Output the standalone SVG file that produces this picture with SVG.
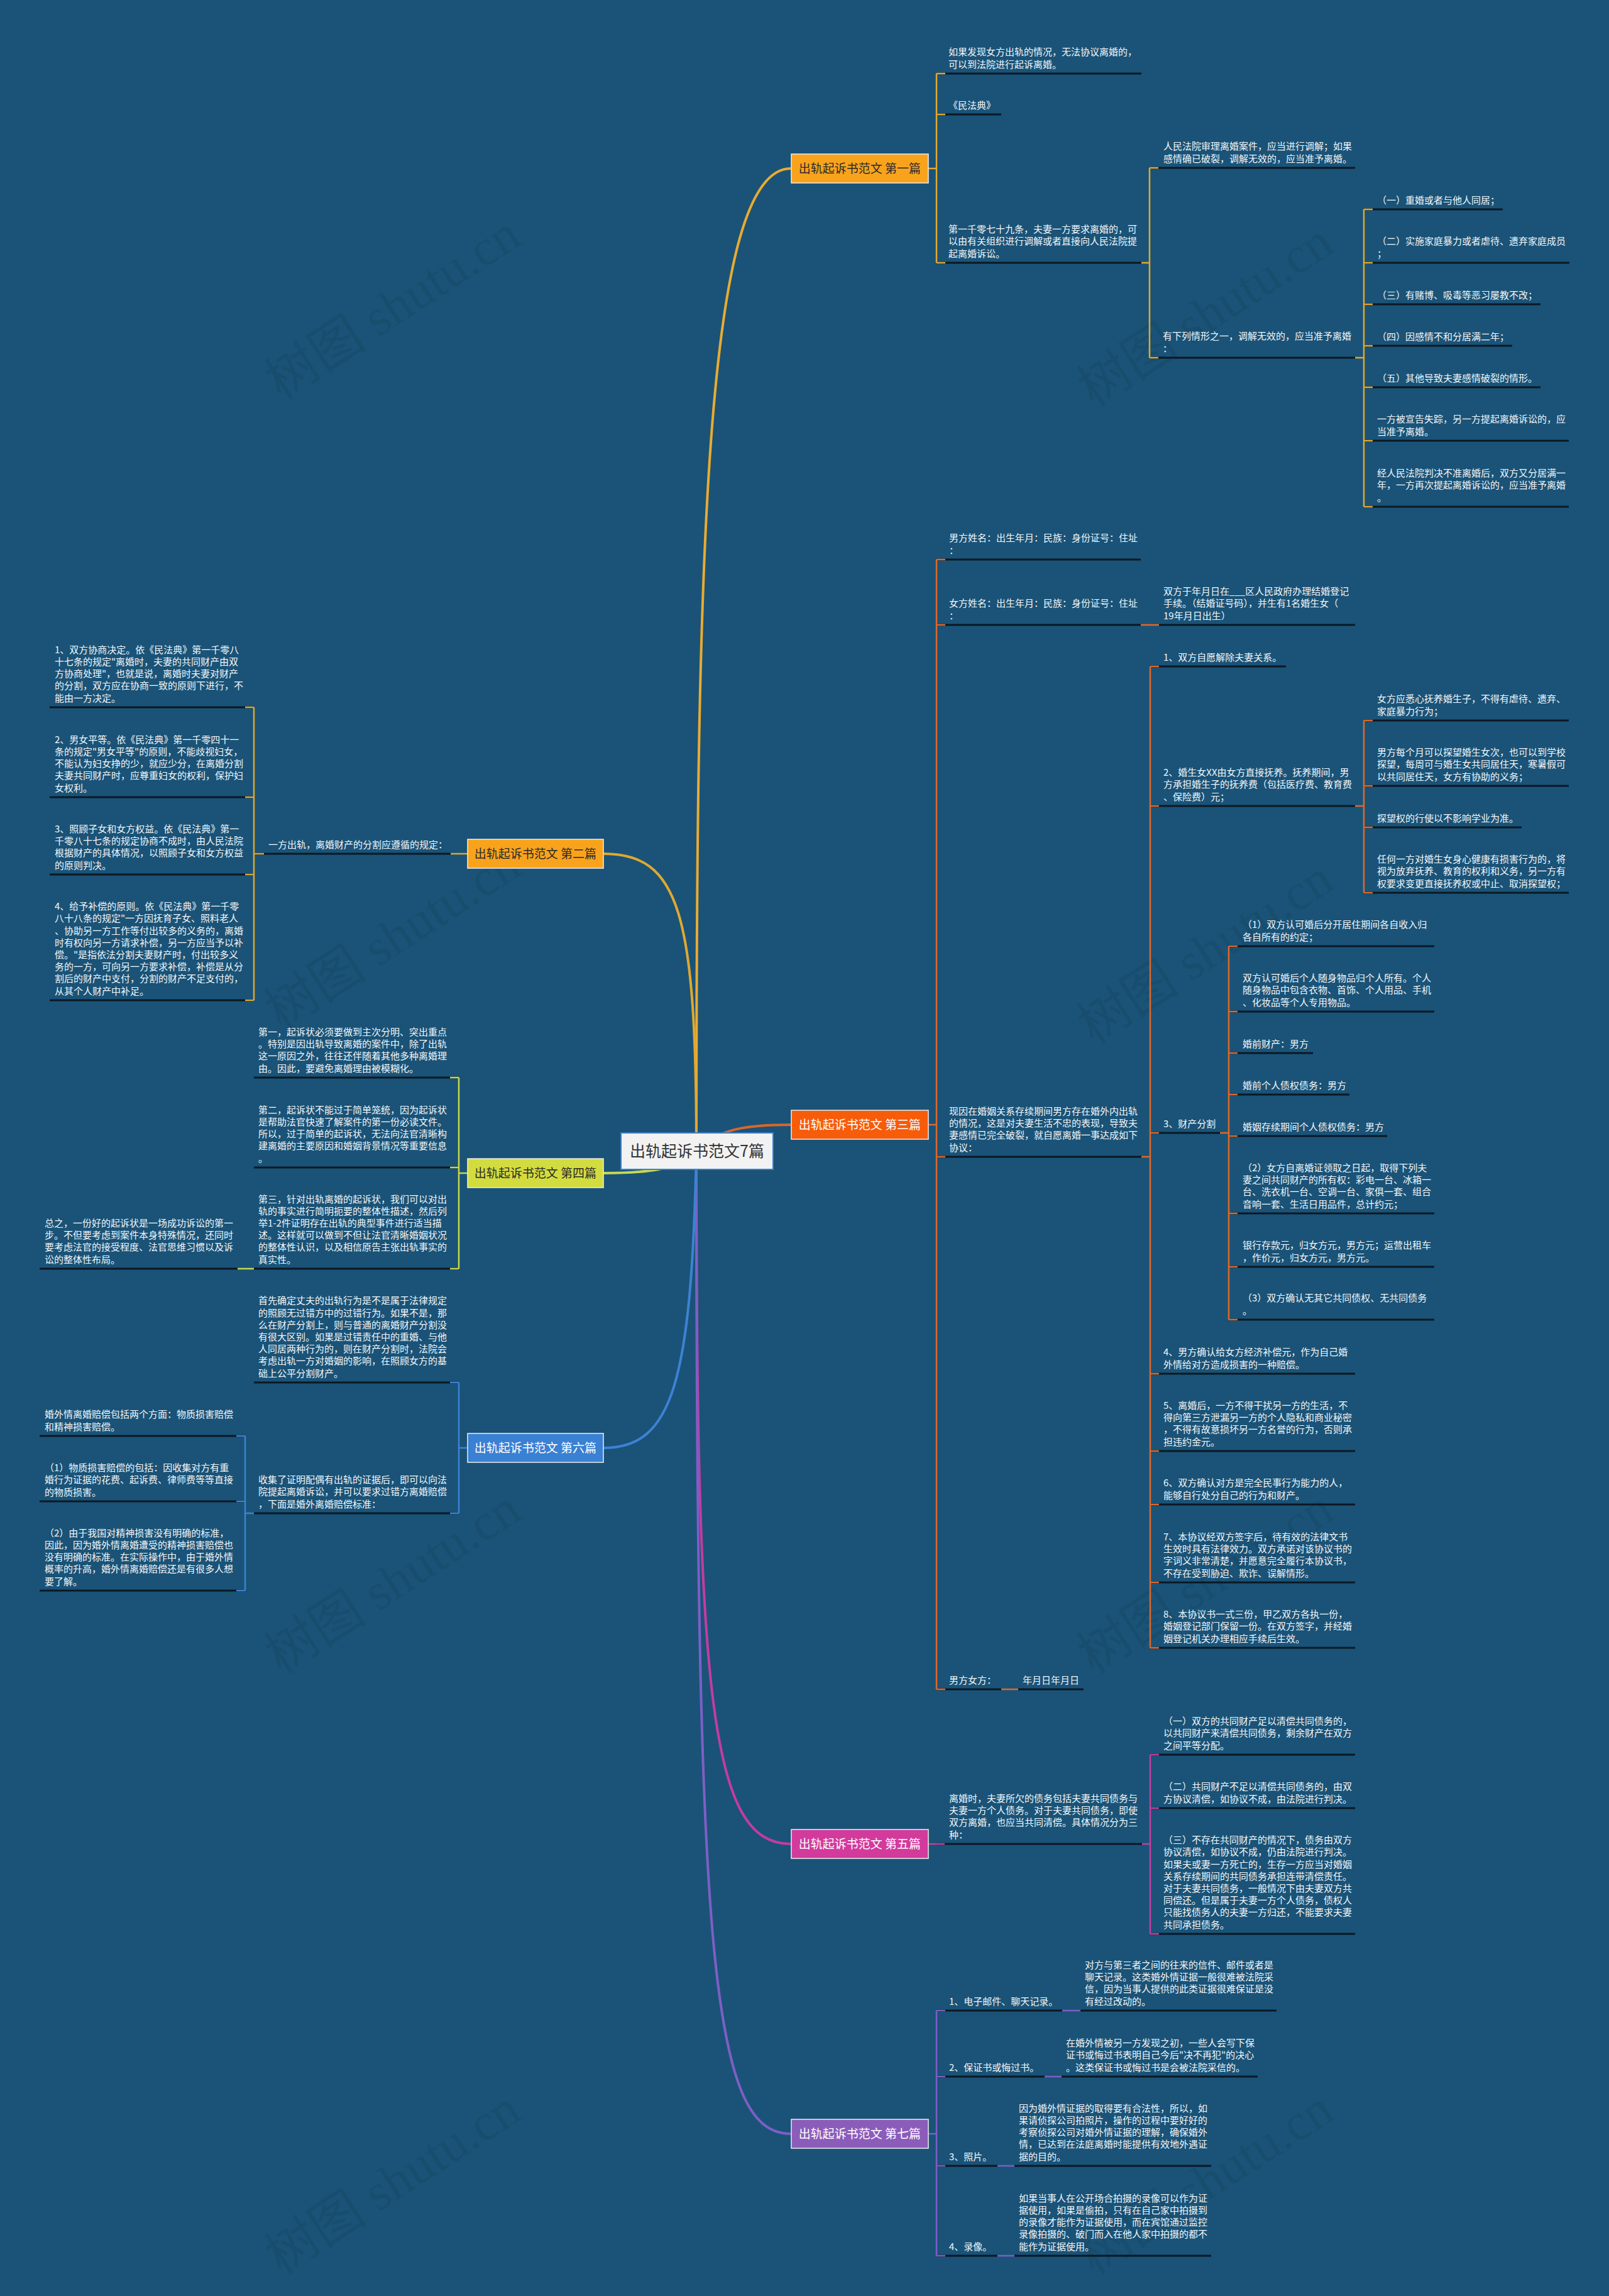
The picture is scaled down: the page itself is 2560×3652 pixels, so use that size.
<svg xmlns="http://www.w3.org/2000/svg" width="2560" height="3652" viewBox="0 0 2560 3652">
<style>
.t{font-family:"Noto Sans CJK SC","Noto Sans",sans-serif;font-size:15px;fill:#F4F7FA}
.ul{stroke:#0B1824;stroke-width:3;fill:none}
.bt{font-family:"Noto Sans CJK SC","Noto Sans",sans-serif;font-size:19px;text-anchor:middle}
.wm{font-family:"Liberation Serif","Noto Sans CJK SC",serif;font-size:82px;fill:#000;fill-opacity:0.07;text-anchor:middle}
.k1{stroke:#E2A72F;fill:none;stroke-width:2.5}
.k2{stroke:#DCA733;fill:none;stroke-width:2.5}
.k3{stroke:#DE682B;fill:none;stroke-width:2.5}
.k4{stroke:#C7D74C;fill:none;stroke-width:2.5}
.k5{stroke:#C33D9F;fill:none;stroke-width:2.5}
.k6{stroke:#3D82D3;fill:none;stroke-width:2.5}
.k7{stroke:#7E5EC4;fill:none;stroke-width:2.5}
.box{stroke:#EDEDED;stroke-width:1.5}
</style>
<rect x="0" y="0" width="2560" height="3652" fill="#1A5377"/>
<g id="watermark">
<text class="wm" transform="translate(640,512) rotate(-33)">树图 shutu.cn</text>
<text class="wm" transform="translate(1933,524) rotate(-33)">树图 shutu.cn</text>
<text class="wm" transform="translate(640,1514) rotate(-33)">树图 shutu.cn</text>
<text class="wm" transform="translate(1933,1537) rotate(-33)">树图 shutu.cn</text>
<text class="wm" transform="translate(640,2539) rotate(-33)">树图 shutu.cn</text>
<text class="wm" transform="translate(1933,2539) rotate(-33)">树图 shutu.cn</text>
<text class="wm" transform="translate(640,3494) rotate(-33)">树图 shutu.cn</text>
<text class="wm" transform="translate(1933,3494) rotate(-33)">树图 shutu.cn</text>
</g>
<g id="connectors">
<path d="M1108 1832 C1108 900 1120 268 1258 268" stroke="#E9AB32" stroke-width="4" fill="none"/>
<path d="M1108 1832 C1140 1795 1190 1789 1258 1789" stroke="#D9672A" stroke-width="4" fill="none"/>
<path d="M1108 1832 C1108 2700 1130 2933 1258 2933" stroke="#C43C9F" stroke-width="4" fill="none"/>
<path d="M1108 1832 C1108 3100 1130 3394 1258 3394" stroke="#7D5FC6" stroke-width="4" fill="none"/>
<path d="M1108 1832 C1108 1450 1080 1358 960 1358" stroke="#E0A830" stroke-width="4" fill="none"/>
<path d="M1108 1832 C1080 1860 1030 1866 960 1866" stroke="#C9D84F" stroke-width="4" fill="none"/>
<path d="M1108 1832 C1100 2200 1070 2303 960 2303" stroke="#3D82D4" stroke-width="4" fill="none"/>
<!-- underlines -->
<path class="ul" d="M1490 117H1816M1490 182H1593M1490 418H1816M1829 267H2156M1829 569H2156M2170 333H2391M2170 418H2497M2170 484H2451M2170 550H2406M2170 616H2451M2170 701H2496M2170 806H2496"/>
<path class="ul" d="M1490 890H1815M1490 994H1815M1844 994H2156M1490 1840H1816M1830 1060H2046M1830 1282H2156M2170 1146H2496M2170 1250H2496M2170 1316H2421M2170 1420H2496M1830 1802H1941M1955 1505H2282M1955 1609H2282M1955 1675H2089M1955 1741H2147M1955 1807H2207M1955 1930H2282M1955 2015H2282M1955 2099H2282M1830 2185H2156M1830 2308H2156M1830 2393H2156M1830 2517H2156M1830 2621H2156M1490 2687H1593M1620 2687H1724"/>
<path class="ul" d="M1490 2933H1817M1830 2791H2156M1830 2876H2156M1830 3076H2156"/>
<path class="ul" d="M1490 3198H1690M1719 3198H2031M1490 3303H1662M1689 3303H2001M1490 3445H1587M1614 3445H1927M1490 3588H1587M1614 3588H1927"/>
<path class="ul" d="M404 1358H717M79 1125H404M79 1268H404M79 1391H404M79 1591H404"/>
<path class="ul" d="M404 1714H730M404 1857H730M404 2018H730M63 2018H378"/>
<path class="ul" d="M404 2199H730M404 2407H730M63 2284H390M63 2388H390M63 2530H390"/>
<!-- section connectors -->
<path class="k1" d="M1476 268H1490M1490 117V418M1490 117H1504M1490 182H1504M1490 418H1504M1816 418H1829M1829 267V569M1829 267H1843M1829 569H1843M2156 569H2170M2170 333V806M2170 333H2184M2170 418H2184M2170 484H2184M2170 550H2184M2170 616H2184M2170 701H2184M2170 806H2184"/>
<path class="k3" d="M1476 1789H1490M1490 890V2687M1490 890H1504M1490 994H1504M1490 1840H1504M1490 2687H1504M1815 994H1844M1816 1840H1830M1830 1060V2621M1830 1060H1844M1830 1282H1844M1830 1802H1844M1830 2185H1844M1830 2308H1844M1830 2393H1844M1830 2517H1844M1830 2621H1844M2156 1282H2170M2170 1146V1420M2170 1146H2184M2170 1250H2184M2170 1316H2184M2170 1420H2184M1941 1802H1955M1955 1505V2099M1955 1505H1969M1955 1609H1969M1955 1675H1969M1955 1741H1969M1955 1807H1969M1955 1930H1969M1955 2015H1969M1955 2099H1969M1593 2687H1620"/>
<path class="k5" d="M1476 2933H1503M1817 2933H1830M1830 2791V3076M1830 2791H1844M1830 2876H1844M1830 3076H1844"/>
<path class="k7" d="M1476 3394H1490M1490 3198V3588M1490 3198H1504M1490 3303H1504M1490 3445H1504M1490 3588H1504M1690 3198H1719M1662 3303H1689M1587 3445H1614M1587 3588H1614"/>
<path class="k2" d="M744 1358H717M404 1358H420M404 1125V1591M390 1125H404M390 1268H404M390 1391H404M390 1591H404"/>
<path class="k4" d="M744 1866H730M730 1714V2018M716 1714H730M716 1857H730M716 2018H730M378 2018H404"/>
<path class="k6" d="M744 2303H730M730 2199V2407M716 2199H730M716 2407H730M390 2407H404M390 2284V2530M376 2284H390M376 2388H390M376 2530H390"/>
</g>
<g id="center">
<rect x="988" y="1802" width="242" height="58" fill="#F2F2F2" stroke="#3A7FD0" stroke-width="2"/>
<text x="1109" y="1840" font-family="Noto Sans CJK SC, Noto Sans, sans-serif" font-size="25" fill="#333" text-anchor="middle">出轨起诉书范文7篇</text>
</g>
<g id="b1">
<rect class="box" x="1259" y="245" width="218" height="46" fill="#F9A31D"/>
<text class="bt" x="1368" y="275" fill="#2A2A2A">出轨起诉书范文 第一篇</text>
</g>
<g id="b3">
<rect class="box" x="1259" y="1766" width="218" height="46" fill="#F75C0A"/>
<text class="bt" x="1368" y="1796" fill="#FFFFFF">出轨起诉书范文 第三篇</text>
</g>
<g id="b5">
<rect class="box" x="1259" y="2910" width="218" height="46" fill="#D23A9C"/>
<text class="bt" x="1368" y="2940" fill="#FFFFFF">出轨起诉书范文 第五篇</text>
</g>
<g id="b7">
<rect class="box" x="1259" y="3371" width="218" height="46" fill="#8C5CBA"/>
<text class="bt" x="1368" y="3401" fill="#FFFFFF">出轨起诉书范文 第七篇</text>
</g>
<g id="b2">
<rect class="box" x="744" y="1335" width="216" height="46" fill="#F9A31D"/>
<text class="bt" x="852" y="1365" fill="#2A2A2A">出轨起诉书范文 第二篇</text>
</g>
<g id="b4">
<rect class="box" x="744" y="1843" width="216" height="46" fill="#D3DC3E"/>
<text class="bt" x="852" y="1873" fill="#2A2A2A">出轨起诉书范文 第四篇</text>
</g>
<g id="b6">
<rect class="box" x="744" y="2280" width="216" height="46" fill="#3A80D3"/>
<text class="bt" x="852" y="2310" fill="#FFFFFF">出轨起诉书范文 第六篇</text>
</g>
<g id="s1">
<text class="t" x="1509" y="88.3"><tspan x="1509">如果发现女方出轨的情况，无法协议离婚的，</tspan><tspan x="1509" dy="19.2">可以到法院进行起诉离婚。</tspan></text>
<text class="t" x="1509" y="172.5">《民法典》</text>
<text class="t" x="1509" y="370.1"><tspan x="1509">第一千零七十九条，夫妻一方要求离婚的，可</tspan><tspan x="1509" dy="19.2">以由有关组织进行调解或者直接向人民法院提</tspan><tspan x="1509" dy="19.2">起离婚诉讼。</tspan></text>
<text class="t" x="1851" y="238.3"><tspan x="1851">人民法院审理离婚案件，应当进行调解；如果</tspan><tspan x="1851" dy="19.2">感情确已破裂，调解无效的，应当准予离婚。</tspan></text>
<text class="t" x="1850" y="540.3"><tspan x="1850">有下列情形之一，调解无效的，应当准予离婚</tspan><tspan x="1850" dy="19.2">：</tspan></text>
<text class="t" x="2191" y="323.5">（一）重婚或者与他人同居；</text>
<text class="t" x="2191" y="389.3"><tspan x="2191">（二）实施家庭暴力或者虐待、遗弃家庭成员</tspan><tspan x="2191" dy="19.2">；</tspan></text>
<text class="t" x="2191" y="474.5">（三）有赌博、吸毒等恶习屡教不改；</text>
<text class="t" x="2191" y="540.5">（四）因感情不和分居满二年；</text>
<text class="t" x="2191" y="606.5">（五）其他导致夫妻感情破裂的情形。</text>
<text class="t" x="2191" y="672.3"><tspan x="2191">一方被宣告失踪，另一方提起离婚诉讼的，应</tspan><tspan x="2191" dy="19.2">当准予离婚。</tspan></text>
<text class="t" x="2191" y="758.1"><tspan x="2191">经人民法院判决不准离婚后，双方又分居满一</tspan><tspan x="2191" dy="19.2">年，一方再次提起离婚诉讼的，应当准予离婚</tspan><tspan x="2191" dy="19.2">。</tspan></text>
</g>
<g id="s3">
<text class="t" x="1510" y="861.3"><tspan x="1510">男方姓名：出生年月：民族：身份证号：住址</tspan><tspan x="1510" dy="19.2">：</tspan></text>
<text class="t" x="1510" y="965.3"><tspan x="1510">女方姓名：出生年月：民族：身份证号：住址</tspan><tspan x="1510" dy="19.2">：</tspan></text>
<text class="t" x="1851" y="946.1"><tspan x="1851">双方于年月日在___区人民政府办理结婚登记</tspan><tspan x="1851" dy="19.2">手续。（结婚证号码），并生有1名婚生女（</tspan><tspan x="1851" dy="19.2">19年月日出生）</tspan></text>
<text class="t" x="1510" y="1772.9"><tspan x="1510">现因在婚姻关系存续期间男方存在婚外内出轨</tspan><tspan x="1510" dy="19.2">的情况，这是对夫妻生活不忠的表现，导致夫</tspan><tspan x="1510" dy="19.2">妻感情已完全破裂，就自愿离婚一事达成如下</tspan><tspan x="1510" dy="19.2">协议：</tspan></text>
<text class="t" x="1851" y="1050.5">1、双方自愿解除夫妻关系。</text>
<text class="t" x="1851" y="1234.1"><tspan x="1851">2、婚生女XX由女方直接抚养。抚养期间，男</tspan><tspan x="1851" dy="19.2">方承担婚生子的抚养费（包括医疗费、教育费</tspan><tspan x="1851" dy="19.2">、保险费）元；</tspan></text>
<text class="t" x="2191" y="1117.3"><tspan x="2191">女方应悉心抚养婚生子，不得有虐待、遗弃、</tspan><tspan x="2191" dy="19.2">家庭暴力行为；</tspan></text>
<text class="t" x="2191" y="1202.1"><tspan x="2191">男方每个月可以探望婚生女次，也可以到学校</tspan><tspan x="2191" dy="19.2">探望，每周可与婚生女共同居住天，寒暑假可</tspan><tspan x="2191" dy="19.2">以共同居住天，女方有协助的义务；</tspan></text>
<text class="t" x="2191" y="1306.5">探望权的行使以不影响学业为准。</text>
<text class="t" x="2191" y="1372.1"><tspan x="2191">任何一方对婚生女身心健康有损害行为的，将</tspan><tspan x="2191" dy="19.2">视为放弃抚养、教育的权利和义务，另一方有</tspan><tspan x="2191" dy="19.2">权要求变更直接抚养权或中止、取消探望权；</tspan></text>
<text class="t" x="1851" y="1792.5">3、财产分割</text>
<text class="t" x="1977" y="1476.3"><tspan x="1977">（1）双方认可婚后分开居住期间各自收入归</tspan><tspan x="1977" dy="19.2">各自所有的约定；</tspan></text>
<text class="t" x="1977" y="1561.1"><tspan x="1977">双方认可婚后个人随身物品归个人所有。个人</tspan><tspan x="1977" dy="19.2">随身物品中包含衣物、首饰、个人用品、手机</tspan><tspan x="1977" dy="19.2">、化妆品等个人专用物品。</tspan></text>
<text class="t" x="1977" y="1665.5">婚前财产：男方</text>
<text class="t" x="1977" y="1731.5">婚前个人债权债务：男方</text>
<text class="t" x="1977" y="1797.5">婚姻存续期间个人债权债务：男方</text>
<text class="t" x="1977" y="1862.9"><tspan x="1977">（2）女方自离婚证领取之日起，取得下列夫</tspan><tspan x="1977" dy="19.2">妻之间共同财产的所有权：彩电一台、冰箱一</tspan><tspan x="1977" dy="19.2">台、洗衣机一台、空调一台、家俱一套、组合</tspan><tspan x="1977" dy="19.2">音响一套、生活日用品件，总计约元；</tspan></text>
<text class="t" x="1977" y="1986.3"><tspan x="1977">银行存款元，归女方元，男方元；运营出租车</tspan><tspan x="1977" dy="19.2">，作价元，归女方元，男方元。</tspan></text>
<text class="t" x="1977" y="2070.3"><tspan x="1977">（3）双方确认无其它共同债权、无共同债务</tspan><tspan x="1977" dy="19.2">。</tspan></text>
<text class="t" x="1851" y="2156.3"><tspan x="1851">4、男方确认给女方经济补偿元，作为自己婚</tspan><tspan x="1851" dy="19.2">外情给对方造成损害的一种赔偿。</tspan></text>
<text class="t" x="1851" y="2240.9"><tspan x="1851">5、离婚后，一方不得干扰另一方的生活，不</tspan><tspan x="1851" dy="19.2">得向第三方泄漏另一方的个人隐私和商业秘密</tspan><tspan x="1851" dy="19.2">，不得有故意损坏另一方名誉的行为，否则承</tspan><tspan x="1851" dy="19.2">担违约金元。</tspan></text>
<text class="t" x="1851" y="2364.3"><tspan x="1851">6、双方确认对方是完全民事行为能力的人，</tspan><tspan x="1851" dy="19.2">能够自行处分自己的行为和财产。</tspan></text>
<text class="t" x="1851" y="2449.9"><tspan x="1851">7、本协议经双方签字后，待有效的法律文书</tspan><tspan x="1851" dy="19.2">生效时具有法律效力。双方承诺对该协议书的</tspan><tspan x="1851" dy="19.2">字词义非常清楚，并愿意完全履行本协议书，</tspan><tspan x="1851" dy="19.2">不存在受到胁迫、欺诈、误解情形。</tspan></text>
<text class="t" x="1851" y="2573.1"><tspan x="1851">8、本协议书一式三份，甲乙双方各执一份，</tspan><tspan x="1851" dy="19.2">婚姻登记部门保留一份。在双方签字，并经婚</tspan><tspan x="1851" dy="19.2">姻登记机关办理相应手续后生效。</tspan></text>
<text class="t" x="1510" y="2677.5">男方女方：</text>
<text class="t" x="1627" y="2677.5">年月日年月日</text>
</g>
<g id="s5">
<text class="t" x="1510" y="2865.9"><tspan x="1510">离婚时，夫妻所欠的债务包括夫妻共同债务与</tspan><tspan x="1510" dy="19.2">夫妻一方个人债务。对于夫妻共同债务，即使</tspan><tspan x="1510" dy="19.2">双方离婚，也应当共同清偿。具体情况分为三</tspan><tspan x="1510" dy="19.2">种：</tspan></text>
<text class="t" x="1851" y="2743.1"><tspan x="1851">（一）双方的共同财产足以清偿共同债务的，</tspan><tspan x="1851" dy="19.2">以共同财产来清偿共同债务，剩余财产在双方</tspan><tspan x="1851" dy="19.2">之间平等分配。</tspan></text>
<text class="t" x="1851" y="2847.3"><tspan x="1851">（二）共同财产不足以清偿共同债务的，由双</tspan><tspan x="1851" dy="19.2">方协议清偿，如协议不成，由法院进行判决。</tspan></text>
<text class="t" x="1851" y="2932.1"><tspan x="1851">（三）不存在共同财产的情况下，债务由双方</tspan><tspan x="1851" dy="19.2">协议清偿，如协议不成，仍由法院进行判决。</tspan><tspan x="1851" dy="19.2">如果夫或妻一方死亡的，生存一方应当对婚姻</tspan><tspan x="1851" dy="19.2">关系存续期间的共同债务承担连带清偿责任。</tspan><tspan x="1851" dy="19.2">对于夫妻共同债务，一般情况下由夫妻双方共</tspan><tspan x="1851" dy="19.2">同偿还。但是属于夫妻一方个人债务，债权人</tspan><tspan x="1851" dy="19.2">只能找债务人的夫妻一方归还，不能要求夫妻</tspan><tspan x="1851" dy="19.2">共同承担债务。</tspan></text>
</g>
<g id="s7">
<text class="t" x="1510" y="3188.5">1、电子邮件、聊天记录。</text>
<text class="t" x="1726" y="3130.9"><tspan x="1726">对方与第三者之间的往来的信件、邮件或者是</tspan><tspan x="1726" dy="19.2">聊天记录。这类婚外情证据一般很难被法院采</tspan><tspan x="1726" dy="19.2">信，因为当事人提供的此类证据很难保证是没</tspan><tspan x="1726" dy="19.2">有经过改动的。</tspan></text>
<text class="t" x="1510" y="3293.5">2、保证书或悔过书。</text>
<text class="t" x="1696" y="3255.1"><tspan x="1696">在婚外情被另一方发现之初，一些人会写下保</tspan><tspan x="1696" dy="19.2">证书或悔过书表明自己今后"决不再犯"的决心</tspan><tspan x="1696" dy="19.2">。这类保证书或悔过书是会被法院采信的。</tspan></text>
<text class="t" x="1510" y="3435.5">3、照片。</text>
<text class="t" x="1621" y="3358.7"><tspan x="1621">因为婚外情证据的取得要有合法性，所以，如</tspan><tspan x="1621" dy="19.2">果请侦探公司拍照片，操作的过程中要好好的</tspan><tspan x="1621" dy="19.2">考察侦探公司对婚外情证据的理解，确保婚外</tspan><tspan x="1621" dy="19.2">情，已达到在法庭离婚时能提供有效地外遇证</tspan><tspan x="1621" dy="19.2">据的目的。</tspan></text>
<text class="t" x="1510" y="3578.5">4、录像。</text>
<text class="t" x="1621" y="3501.7"><tspan x="1621">如果当事人在公开场合拍摄的录像可以作为证</tspan><tspan x="1621" dy="19.2">据使用，如果是偷拍，只有在自己家中拍摄到</tspan><tspan x="1621" dy="19.2">的录像才能作为证据使用，而在宾馆通过监控</tspan><tspan x="1621" dy="19.2">录像拍摄的、破门而入在他人家中拍摄的都不</tspan><tspan x="1621" dy="19.2">能作为证据使用。</tspan></text>
</g>
<g id="s2">
<text class="t" x="427" y="1348.5">一方出轨，离婚财产的分割应遵循的规定：</text>
<text class="t" x="87" y="1038.7"><tspan x="87">1、双方协商决定。依《民法典》第一千零八</tspan><tspan x="87" dy="19.2">十七条的规定"离婚时，夫妻的共同财产由双</tspan><tspan x="87" dy="19.2">方协商处理"，也就是说，离婚时夫妻对财产</tspan><tspan x="87" dy="19.2">的分割，双方应在协商一致的原则下进行，不</tspan><tspan x="87" dy="19.2">能由一方决定。</tspan></text>
<text class="t" x="87" y="1181.7"><tspan x="87">2、男女平等。依《民法典》第一千零四十一</tspan><tspan x="87" dy="19.2">条的规定"男女平等"的原则，不能歧视妇女，</tspan><tspan x="87" dy="19.2">不能认为妇女挣的少，就应少分，在离婚分割</tspan><tspan x="87" dy="19.2">夫妻共同财产时，应尊重妇女的权利，保护妇</tspan><tspan x="87" dy="19.2">女权利。</tspan></text>
<text class="t" x="87" y="1323.9"><tspan x="87">3、照顾子女和女方权益。依《民法典》第一</tspan><tspan x="87" dy="19.2">千零八十七条的规定协商不成时，由人民法院</tspan><tspan x="87" dy="19.2">根据财产的具体情况，以照顾子女和女方权益</tspan><tspan x="87" dy="19.2">的原则判决。</tspan></text>
<text class="t" x="87" y="1447.1"><tspan x="87">4、给予补偿的原则。依《民法典》第一千零</tspan><tspan x="87" dy="19.2">八十八条的规定"一方因抚育子女、照料老人</tspan><tspan x="87" dy="19.2">、协助另一方工作等付出较多的义务的，离婚</tspan><tspan x="87" dy="19.2">时有权向另一方请求补偿，另一方应当予以补</tspan><tspan x="87" dy="19.2">偿。"是指依法分割夫妻财产时，付出较多义</tspan><tspan x="87" dy="19.2">务的一方，可向另一方要求补偿，补偿是从分</tspan><tspan x="87" dy="19.2">割后的财产中支付，分割的财产不足支付的，</tspan><tspan x="87" dy="19.2">从其个人财产中补足。</tspan></text>
</g>
<g id="s4">
<text class="t" x="411" y="1646.9"><tspan x="411">第一，起诉状必须要做到主次分明、突出重点</tspan><tspan x="411" dy="19.2">。特别是因出轨导致离婚的案件中，除了出轨</tspan><tspan x="411" dy="19.2">这一原因之外，往往还伴随着其他多种离婚理</tspan><tspan x="411" dy="19.2">由。因此，要避免离婚理由被模糊化。</tspan></text>
<text class="t" x="411" y="1770.7"><tspan x="411">第二，起诉状不能过于简单笼统，因为起诉状</tspan><tspan x="411" dy="19.2">是帮助法官快速了解案件的第一份必读文件。</tspan><tspan x="411" dy="19.2">所以，过于简单的起诉状，无法向法官清晰构</tspan><tspan x="411" dy="19.2">建离婚的主要原因和婚姻背景情况等重要信息</tspan><tspan x="411" dy="19.2">。</tspan></text>
<text class="t" x="411" y="1912.5"><tspan x="411">第三，针对出轨离婚的起诉状，我们可以对出</tspan><tspan x="411" dy="19.2">轨的事实进行简明扼要的整体性描述，然后列</tspan><tspan x="411" dy="19.2">举1-2件证明存在出轨的典型事件进行适当描</tspan><tspan x="411" dy="19.2">述。这样就可以做到不但让法官清晰婚姻状况</tspan><tspan x="411" dy="19.2">的整体性认识，以及相信原告主张出轨事实的</tspan><tspan x="411" dy="19.2">真实性。</tspan></text>
<text class="t" x="71" y="1950.9"><tspan x="71">总之，一份好的起诉状是一场成功诉讼的第一</tspan><tspan x="71" dy="19.2">步。不但要考虑到案件本身特殊情况，还同时</tspan><tspan x="71" dy="19.2">要考虑法官的接受程度、法官思维习惯以及诉</tspan><tspan x="71" dy="19.2">讼的整体性布局。</tspan></text>
</g>
<g id="s6">
<text class="t" x="411" y="2074.3"><tspan x="411">首先确定丈夫的出轨行为是不是属于法律规定</tspan><tspan x="411" dy="19.2">的照顾无过错方中的过错行为。如果不是，那</tspan><tspan x="411" dy="19.2">么在财产分割上，则与普通的离婚财产分割没</tspan><tspan x="411" dy="19.2">有很大区别。如果是过错责任中的重婚、与他</tspan><tspan x="411" dy="19.2">人同居两种行为的，则在财产分割时，法院会</tspan><tspan x="411" dy="19.2">考虑出轨一方对婚姻的影响，在照顾女方的基</tspan><tspan x="411" dy="19.2">础上公平分割财产。</tspan></text>
<text class="t" x="411" y="2359.1"><tspan x="411">收集了证明配偶有出轨的证据后，即可以向法</tspan><tspan x="411" dy="19.2">院提起离婚诉讼，并可以要求过错方离婚赔偿</tspan><tspan x="411" dy="19.2">，下面是婚外离婚赔偿标准：</tspan></text>
<text class="t" x="71" y="2255.3"><tspan x="71">婚外情离婚赔偿包括两个方面：物质损害赔偿</tspan><tspan x="71" dy="19.2">和精神损害赔偿。</tspan></text>
<text class="t" x="71" y="2340.1"><tspan x="71">（1）物质损害赔偿的包括：因收集对方有重</tspan><tspan x="71" dy="19.2">婚行为证据的花费、起诉费、律师费等等直接</tspan><tspan x="71" dy="19.2">的物质损害。</tspan></text>
<text class="t" x="71" y="2443.7"><tspan x="71">（2）由于我国对精神损害没有明确的标准，</tspan><tspan x="71" dy="19.2">因此，因为婚外情离婚遭受的精神损害赔偿也</tspan><tspan x="71" dy="19.2">没有明确的标准。在实际操作中，由于婚外情</tspan><tspan x="71" dy="19.2">概率的升高，婚外情离婚赔偿还是有很多人想</tspan><tspan x="71" dy="19.2">要了解。</tspan></text>
</g>
</svg>
